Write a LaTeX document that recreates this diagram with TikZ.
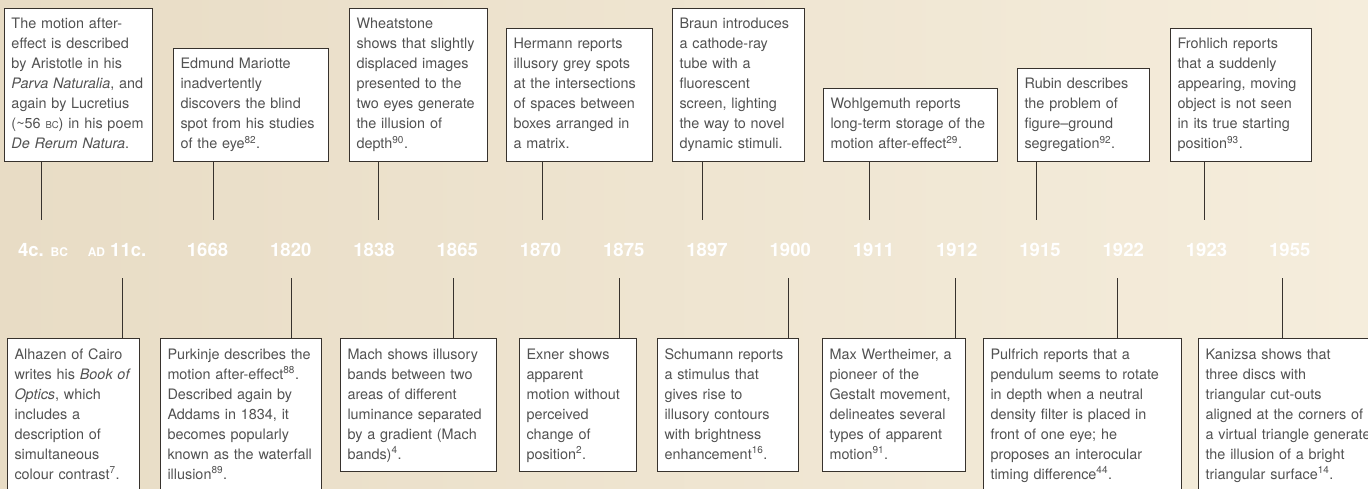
\documentclass[tikz,border=0pt]{standalone}
\usepackage{fontspec}
\setmainfont{TeX Gyre Heros}
\definecolor{bgleft}{RGB}{232,220,197}
\definecolor{bgright}{RGB}{245,237,220}
\definecolor{boxtext}{RGB}{82,82,82}
\definecolor{stemgrey}{RGB}{55,50,45}
\newcommand{\era}[1]{{\fontsize{12}{14}\selectfont #1}}
\newcommand{\smallera}[1]{{\fontsize{9.5}{12}\selectfont #1}}
\tikzset{
  event/.style={
    draw=stemgrey, line width=1pt, fill=white, text=boxtext,
    align=left, inner xsep=7pt, inner ysep=6.5pt,
    font=\fontsize{14.4}{20}\selectfont,
    execute at begin node=\strut, execute at end node=\strut
  },
  upper/.style={event, anchor=south west},
  lower/.style={event, anchor=north west},
  year/.style={text=white, font=\fontsize{18.5}{20}\selectfont\bfseries},
  riser/.style={draw=stemgrey, line width=0.9pt}
}

\begin{document}
\begin{tikzpicture}[x=1pt, y=-1pt]
\useasboundingbox (0,0) rectangle (1368,489);
\clip (0,0) rectangle (1368,489);
\shade[left color=bgleft, right color=bgright] (0,0) rectangle (1368,489);

% years
\node[year] (ybc) at (43,250) {4c. \era{BC}};
\node[year] (yad) at (117,250) {\era{AD} 11c.};
\foreach \yr [count=\i from 2] in {1668,1820,1838,1865,1870,1875,1897,1900,1911,1912,1915,1922,1923,1955}
  \node[year] (y\yr) at ({41+83.25*\i},250) {\yr};

% events above the line
\node[upper, text width=134] (u1) at (4,162) {The motion after-\\effect is described\\by Aristotle in his\\\textit{Parva Naturalia}, and\\again by Lucretius\\(\textasciitilde 56 \smallera{BC}) in his poem\\\textit{De Rerum Natura}.};
\node[upper, text width=141] (u2) at (173,162) {Edmund Mariotte\\inadvertently\\discovers the blind\\spot from his studies\\of the eye\textsuperscript{82}.};
\node[upper, text width=124] (u3) at (349,162) {Wheatstone\\shows that slightly\\displaced images\\presented to the\\two eyes generate\\the illusion of\\depth\textsuperscript{90}.};
\node[upper, text width=132] (u4) at (506,162) {Hermann reports\\illusory grey spots\\at the intersections\\of spaces between\\boxes arranged in\\a matrix.};
\node[upper, text width=118] (u5) at (672,162) {Braun introduces\\a cathode-ray\\tube with a\\fluorescent\\screen, lighting\\the way to novel\\dynamic stimuli.};
\node[upper, text width=160] (u6) at (823,162) {Wohlgemuth reports\\long-term storage of the\\motion after-effect\textsuperscript{29}.};
\node[upper, text width=118] (u7) at (1017,162) {Rubin describes\\the problem of\\figure--ground\\segregation\textsuperscript{92}.};
\node[upper, text width=127] (u8) at (1170,162) {Frohlich reports\\that a suddenly\\appearing, moving\\object is not seen\\in its true starting\\position\textsuperscript{93}.};

% events below the line
\node[lower, text width=118] (l1) at (7,338) {Alhazen of Cairo\\writes his \textit{Book of}\\\textit{Optics}, which\\includes a\\description of\\simultaneous\\colour contrast\textsuperscript{7}.};
\node[lower, text width=147] (l2) at (160,338) {Purkinje describes the\\motion after-effect\textsuperscript{88}.\\Described again by\\Addams in 1834, it\\becomes popularly\\known as the waterfall\\illusion\textsuperscript{89}.};
\node[lower, text width=142] (l3) at (340,338) {Mach shows illusory\\bands between two\\areas of different\\luminance separated\\by a gradient (Mach\\bands)\textsuperscript{4}.};
\node[lower, text width=103] (l4) at (519,338) {Exner shows\\apparent\\motion without\\perceived\\change of\\position\textsuperscript{2}.};
\node[lower, text width=127] (l5) at (657,338) {Schumann reports\\a stimulus that\\gives rise to\\illusory contours\\with brightness\\enhancement\textsuperscript{16}.};
\node[lower, text width=129] (l6) at (822,338) {Max Wertheimer, a\\pioneer of the\\Gestalt movement,\\delineates several\\types of apparent\\motion\textsuperscript{91}.};
\node[lower, text width=184] (l7) at (983,338) {Pulfrich reports that a\\pendulum seems to rotate\\in depth when a neutral\\density filter is placed in\\front of one eye; he\\proposes an interocular\\timing difference\textsuperscript{44}.};
\node[lower, text width=190] (l8) at (1198,338) {Kanizsa shows that\\three discs with\\triangular cut-outs\\aligned at the corners of\\a virtual triangle generates\\the illusion of a bright\\triangular surface\textsuperscript{14}.};

% risers
\foreach \n/\x in {1/41,2/213,3/378,4/542,5/702,6/869,7/1036,8/1204}
  \coordinate (t\n) at (\x,220);
\foreach \n/\x in {1/122,2/291,3/453,4/619,5/788,6/955,7/1117,8/1282}
  \coordinate (b\n) at (\x,278);
\foreach \n in {1,...,8} {
  \draw[riser] (u\n.south -| t\n) -- (t\n);
  \draw[riser] (b\n) -- (l\n.north -| b\n);
}
\end{tikzpicture}
\end{document}
